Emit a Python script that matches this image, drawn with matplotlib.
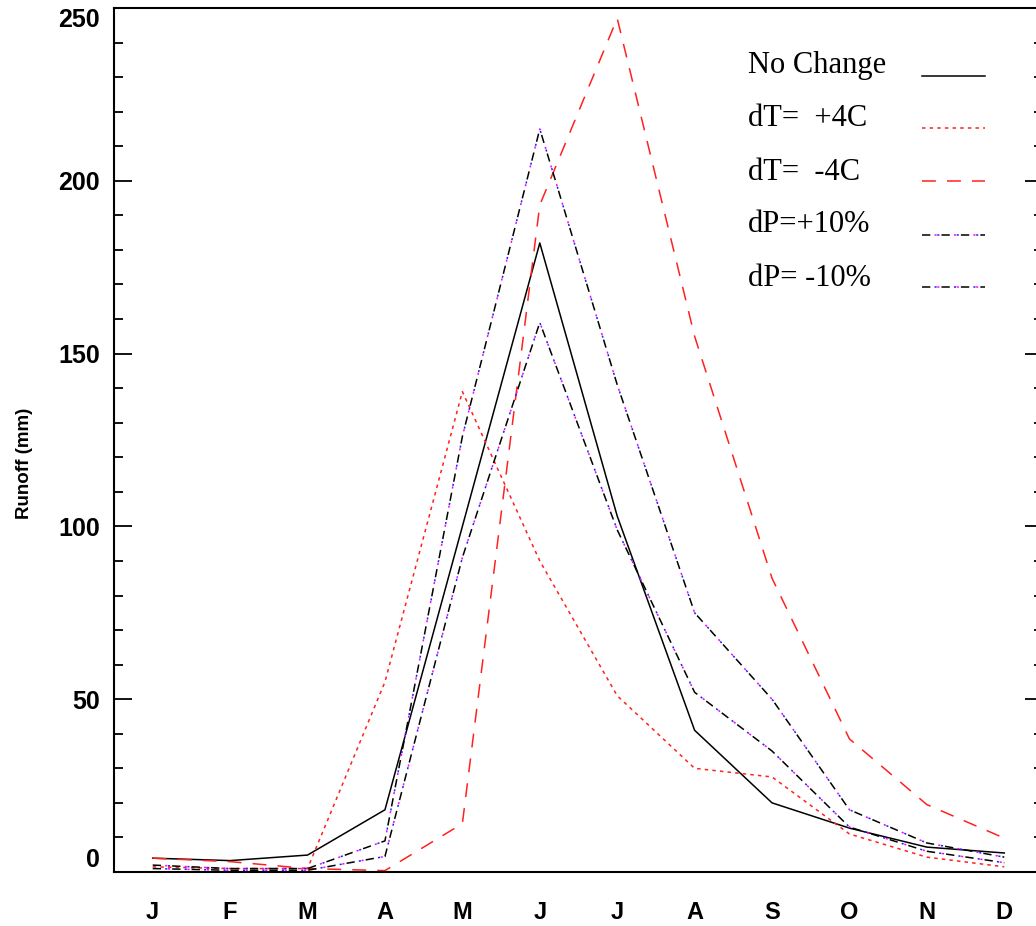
import matplotlib
matplotlib.use("Agg")
import matplotlib.pyplot as plt
from matplotlib.lines import Line2D
import numpy as np

plt.rcParams['lines.scale_dashes'] = False

months = ["J", "F", "M", "A", "M", "J", "J", "A", "S", "O", "N", "D"]
no_change = [4.0, 3.3, 4.9, 18, 100, 182, 103, 41, 20, 12.7, 7.2, 5.5]
dT_plus4 = [1.5, 1.0, 1.0, 55, 139, 90, 51, 30, 27.5, 11, 4.3, 1.5]
dT_minus4 = [4.0, 3.0, 1.0, 0.4, 14, 193, 247, 155, 85, 38.5, 19.5, 9.8]
dP_plus10 = [2.0, 1.0, 1.0, 9, 126, 215, 141, 75, 50, 18, 8.4, 4.3]
dP_minus10 = [1.0, 0.5, 0.5, 4.5, 91, 159, 99, 52, 35, 13, 6, 2.7]
yticks = [0, 50, 100, 150, 200, 250]

W, H = 1036, 926
fig = plt.figure(figsize=(W / 100, H / 100), dpi=100)
x0, x1, yb, yt = 114, 1043, 872, 8
ax = fig.add_axes([x0 / W, (H - yb) / H, (x1 - x0) / W, (yb - yt) / H])

x = np.arange(len(months))

def dashdot(ax, xs, ys, c1, c2):
    ax.plot(xs, ys, color='black', lw=1.1, linestyle=(0, (6, 8)))
    ax.plot(xs, ys, color=c1, lw=1.1, linestyle=(5, (1.5, 12.5)))
    ax.plot(xs, ys, color=c2, lw=1.1, linestyle=(3, (1.5, 12.5)))

ax.plot(x, no_change, color='black', lw=1.1, linestyle='-')
ax.plot(x, dT_plus4, color='#ff2020', lw=1.1, linestyle=(0, (2.5, 3)))
ax.plot(x, dT_minus4, color='#ff2020', lw=1.1, linestyle=(0, (10, 8)))
dashdot(ax, x, dP_plus10, '#ff00ff', '#2020ff')
dashdot(ax, x, dP_minus10, '#2020ff', '#ff00ff')

ax.set_xlim(-0.5, 11.5)
ax.set_ylim(0, 250)
ax.set_xticks(x)
ax.set_xticklabels(months, fontsize=17, fontweight='bold', family='Liberation Sans')
ax.tick_params(axis='x', length=0, pad=21)
ax.set_yticks(yticks)
ax.set_yticks(np.arange(0, 251, 10), minor=True)
ax.set_yticklabels([str(v) for v in yticks], fontsize=18, fontweight='bold', family='Liberation Sans')
ax.tick_params(axis='y', which='major', direction='in', length=13, width=1.3, right=True, pad=10)
ax.tick_params(axis='y', which='minor', direction='in', length=6.5, width=1.3, right=True)
for s in ax.spines.values():
    s.set_linewidth(1.5)
yt_ticks = ax.yaxis.get_major_ticks()
yt_ticks[-1].label1.set_verticalalignment('top')
yt_ticks[0].label1.set_verticalalignment('bottom')

ax.set_ylabel("Runoff (mm)", fontsize=13.5, fontweight='bold', family='Liberation Sans')
ax.yaxis.label.set_verticalalignment('center')
ax.yaxis.set_label_coords(-0.096, 0.473)

# legend drawn as text + line samples
labels = ["No Change", "dT=  +4C", "dT=  -4C", "dP=+10%", "dP= -10%"]
text_y = [65, 118, 172, 225, 278]
line_y = [76, 128, 181, 235, 287]
styles = [
    [('black', '-')],
    [('#ff2020', (0, (2.5, 3)))],
    [('#ff2020', (0, (10, 8)))],
    [('black', (0, (6, 8))), ('#ff00ff', (5, (1.5, 12.5))), ('#2020ff', (3, (1.5, 12.5)))],
    [('black', (0, (6, 8))), ('#2020ff', (5, (1.5, 12.5))), ('#ff00ff', (3, (1.5, 12.5)))],
]
for lab, ty, ly, st in zip(labels, text_y, line_y, styles):
    fig.text(748 / W, 1 - ty / H, lab, fontsize=22, family='Liberation Serif', va='center', ha='left')
    for c, ls in st:
        fig.add_artist(Line2D([922 / W, 985 / W], [1 - ly / H, 1 - ly / H], color=c, lw=1.1,
                              linestyle=ls, transform=fig.transFigure))

fig.savefig("out.png", dpi=100)
